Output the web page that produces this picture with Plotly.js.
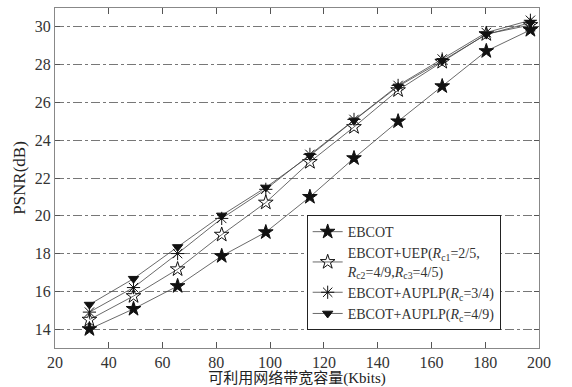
<!DOCTYPE html>
<html><head><meta charset="utf-8">
<script src="https://cdn.plot.ly/plotly-3.0.1.min.js"></script>
<style>html,body{margin:0;padding:0;background:#fff}#chart{width:572px;height:387px}</style>
</head><body><div id="chart"></div>
<script>
const bandwidth = [32.8, 49.2, 65.6, 82, 98.4, 114.8, 131.2, 147.6, 164, 180.4, 196.8];
const ebcot    = [14.0, 15.07, 16.28, 17.87, 19.13, 21.0, 23.05, 25.0, 26.86, 28.72, 29.84];
const uep      = [14.5, 15.75, 17.17, 19.0, 20.7, 22.85, 24.7, 26.65, 28.15, 29.62, 30.1];
const auplp34  = [14.9, 16.2, 18.0, 19.86, 21.4, 23.25, 25.1, 26.9, 28.3, 29.7, 30.35];
const auplp49  = [15.3, 16.67, 18.35, 20.02, 21.5, 23.18, 25.05, 26.85, 28.2, 29.6, 30.22];
const names = [
  'EBCOT',
  'EBCOT+UEP(<i>R</i><sub>c1</sub>=2/5,<br><i>R</i><sub>c2</sub>=4/9,<i>R</i><sub>c3</sub>=4/5)',
  'EBCOT+AUPLP(<i>R</i><sub>c</sub>=3/4)',
  'EBCOT+AUPLP(<i>R</i><sub>c</sub>=4/9)'
];
const xTicks = [20, 40, 60, 80, 100, 120, 140, 160, 180, 200];
const yTicks = [14, 16, 18, 20, 22, 24, 26, 28, 30];

const serif = '"Liberation Serif", "Times New Roman", "DejaVu Serif", "Noto Sans CJK SC", serif';
const lineStyle = {color: '#444', width: 0.8};
function tr(y, name, symbol, size) {
  return {x: bandwidth, y: y, name: name, type: 'scatter', mode: 'lines+markers',
    line: lineStyle,
    marker: {symbol: symbol, size: size, color: '#111', line: {color: '#111', width: 1}}};
}
const data = [
  tr(ebcot, names[0], 'star', 11),
  tr(uep, names[1], 'star-open', 11),
  tr(auplp34, names[2], 'asterisk-open', 11),
  tr(auplp49, names[3], 'triangle-down', 9)
];
const tickFont = {family: serif, size: 16, color: '#333'};
const layout = {
  width: 572, height: 387,
  margin: {l: 55, r: 33, t: 8, b: 39},
  paper_bgcolor: '#fff', plot_bgcolor: '#fff',
  font: {family: serif, size: 16, color: '#333'},
  showlegend: true,
  legend: {x: 0.52, y: 0.391, xanchor: 'left', yanchor: 'top',
    bgcolor: '#fff', bordercolor: '#222', borderwidth: 1,
    font: {family: serif, size: 14, color: '#333'}, tracegroupgap: 5, itemwidth: 30},
  xaxis: {range: [20, 200], tickvals: xTicks, ticks: 'inside', ticklen: 6, tickfont: tickFont,
    tickcolor: '#555', showline: true, linecolor: '#888', linewidth: 1, mirror: 'ticks',
    showgrid: false, zeroline: false,
    title: {text: '可利用网络带宽容量(Kbits)', standoff: 6, font: {family: serif, size: 15, color: '#222'}}},
  yaxis: {range: [13, 31], tickvals: yTicks, ticks: 'inside', ticklen: 5, tickfont: tickFont,
    tickcolor: '#555', showline: true, linecolor: '#888', linewidth: 1, mirror: 'ticks',
    showgrid: true, gridcolor: '#555', griddash: 'dashdot', gridwidth: 0.8, zeroline: false,
    title: {text: 'PSNR(dB)', standoff: 4, font: {family: serif, size: 17, color: '#222'}}}
};
Plotly.newPlot('chart', data, layout, {displayModeBar: false, staticPlot: true});
</script></body></html>
